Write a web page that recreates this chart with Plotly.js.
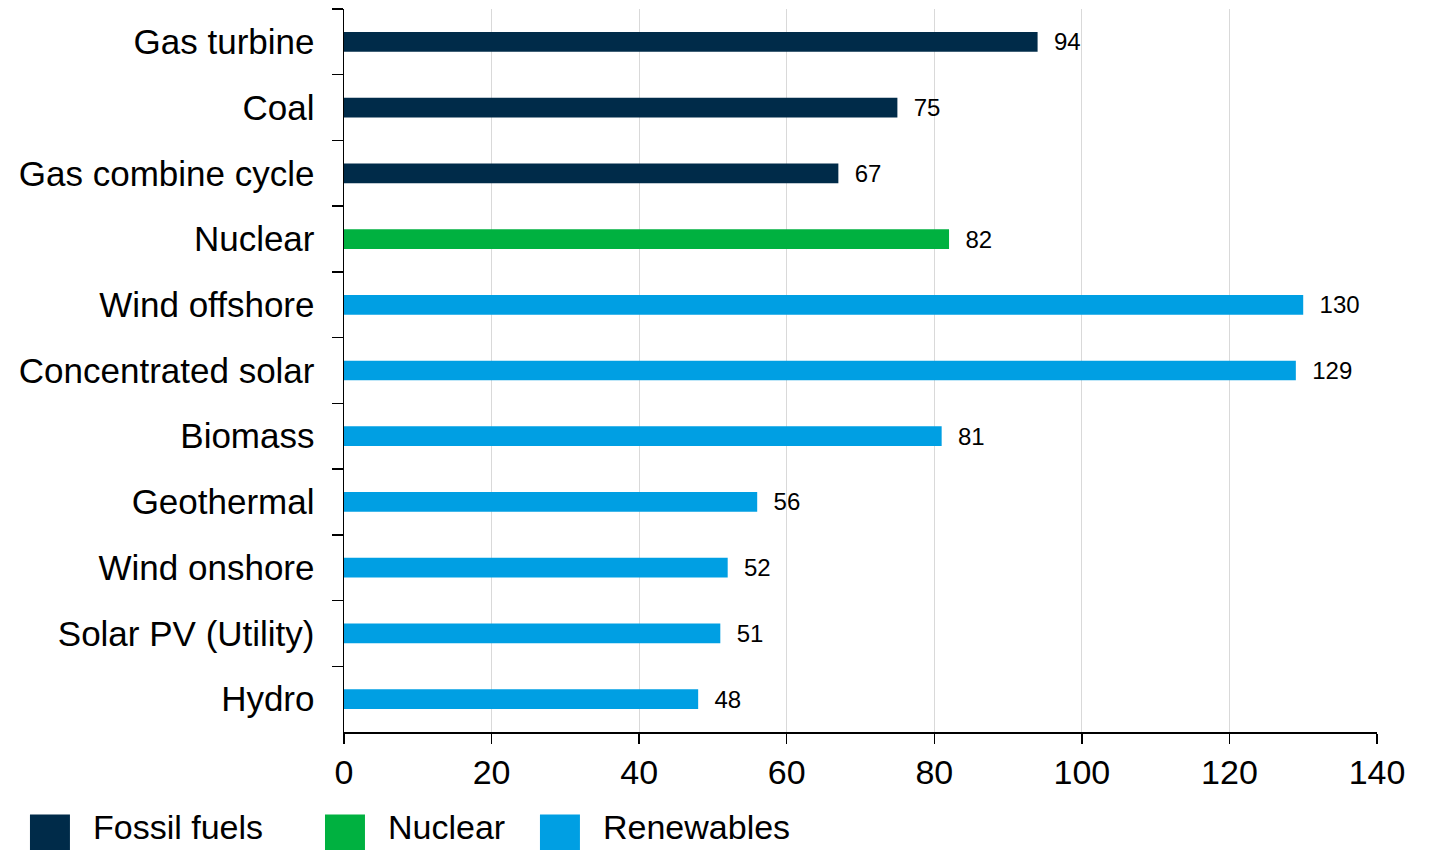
<!DOCTYPE html>
<html>
<head>
<meta charset="utf-8">
<script src="https://cdn.plot.ly/plotly-3.0.1.min.js"></script>
<style>html,body{margin:0;padding:0;background:#fff;}#chart{width:1430px;height:850px;}</style>
</head>
<body>
<div id="chart"></div>
<script>
// Category order top to bottom
const categories = ["Gas turbine","Coal","Gas combine cycle","Nuclear","Wind offshore","Concentrated solar","Biomass","Geothermal","Wind onshore","Solar PV (Utility)","Hydro"];

const fossilCategories = ["Gas turbine","Coal","Gas combine cycle"];
const fossilValues = [94, 75, 67];

const nuclearCategories = ["Nuclear"];
const nuclearValues = [82];

const renewableCategories = ["Wind offshore","Concentrated solar","Biomass","Geothermal","Wind onshore","Solar PV (Utility)","Hydro"];
const renewableValues = [130, 129, 81, 56, 52, 51, 48];

const groupNames = ["Fossil fuels","Nuclear","Renewables"];
const groupColors = ["#002b49","#00b140","#009fe3"];

const xTicks = [0,20,40,60,80,100,120,140];

const FONT = "Arial, 'Liberation Sans', sans-serif";

function barTrace(cats, vals, i) {
  return {
    type: "bar",
    orientation: "h",
    y: cats,
    x: vals,
    name: groupNames[i],
    marker: {color: groupColors[i]},
    width: 0.3,
    text: vals.map(v => String(v)),
    texttemplate: "  %{text}",
    textposition: "outside",
    constraintext: "none",
    textfont: {family: FONT, size: 24, color: "#000"},
    outsidetextfont: {family: FONT, size: 24, color: "#000"},
    cliponaxis: false,
    showlegend: false,
    hoverinfo: "y+x"
  };
}

const data = [
  barTrace(fossilCategories, fossilValues, 0),
  barTrace(nuclearCategories, nuclearValues, 1),
  barTrace(renewableCategories, renewableValues, 2)
];

// Manual legend at the bottom (square swatches + text)
const legendSwatchX = [-0.304, -0.0184, 0.1897];
const swatchW = 0.0387;
const shapes = [];
const annotations = [];
groupNames.forEach((g, i) => {
  shapes.push({
    type: "rect", xref: "paper", yref: "paper",
    x0: legendSwatchX[i], x1: legendSwatchX[i] + swatchW,
    y0: -0.172, y1: -0.114,
    fillcolor: groupColors[i], line: {width: 0}
  });
  annotations.push({
    xref: "paper", yref: "paper",
    x: legendSwatchX[i] + swatchW + 0.02, y: -0.1605,
    xanchor: "left", yanchor: "bottom",
    text: g, showarrow: false,
    font: {family: FONT, size: 34, color: "#000"}
  });
});

const layout = {
  width: 1430, height: 850,
  margin: {l: 344, r: 53, t: 9, b: 118},
  paper_bgcolor: "#fff", plot_bgcolor: "#fff",
  barmode: "overlay",
  showlegend: false,
  font: {family: FONT, color: "#000"},
  xaxis: {
    range: [0, 140],
    tickvals: xTicks,
    ticktext: xTicks.map(String),
    showgrid: true, gridcolor: "#d9d9d9", gridwidth: 1,
    zeroline: false,
    showline: true, linecolor: "#000", linewidth: 1.5,
    ticks: "outside", ticklen: 10, tickwidth: 1.5, tickcolor: "#000",
    tickfont: {family: FONT, size: 34, color: "#000"}
  },
  yaxis: {
    type: "category",
    categoryorder: "array",
    categoryarray: categories,
    range: [categories.length - 0.5, -0.5],
    showgrid: false, zeroline: false,
    showline: true, linecolor: "#000", linewidth: 1.5,
    ticks: "outside", tickson: "boundaries", ticklen: 11, tickwidth: 1.5, tickcolor: "#000",
    ticklabelstandoff: 21,
    tickfont: {family: FONT, size: 35, color: "#000"}
  },
  shapes: shapes,
  annotations: annotations
};

Plotly.newPlot("chart", data, layout, {displayModeBar: false, staticPlot: true});
</script>
</body>
</html>
